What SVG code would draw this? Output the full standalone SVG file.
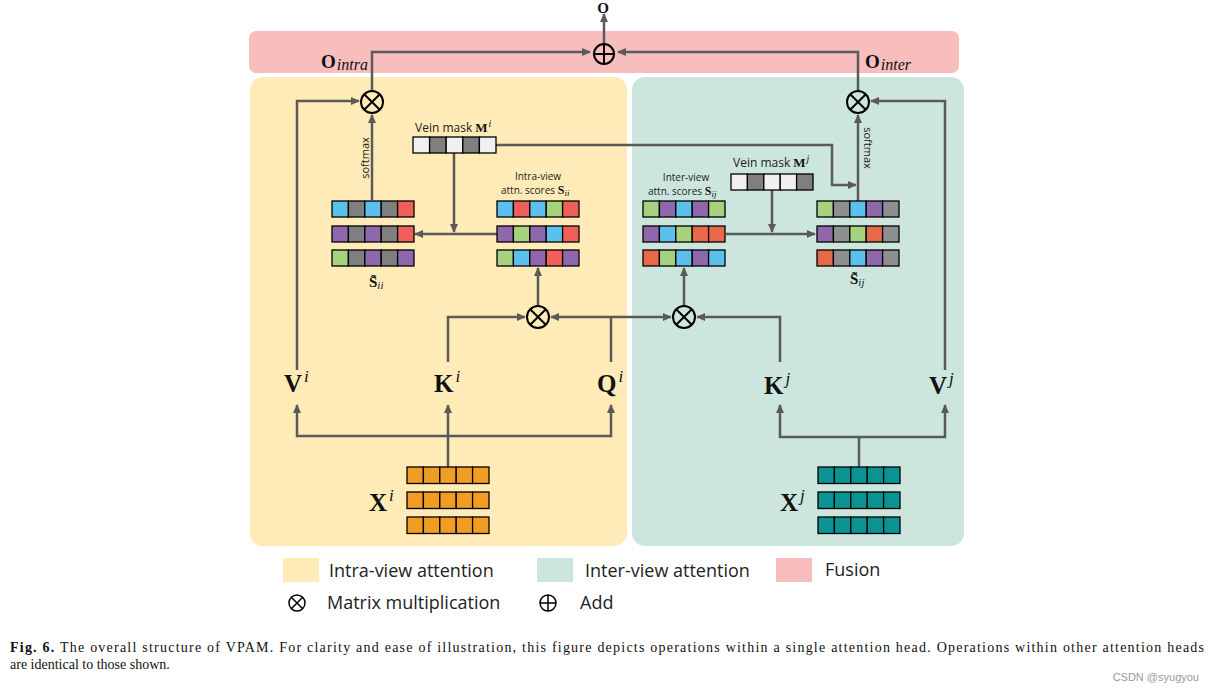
<svg xmlns="http://www.w3.org/2000/svg" width="1214" height="693" viewBox="0 0 1214 693">
<defs>
<marker id="ar" viewBox="0 0 10 10" refX="9" refY="5" markerWidth="9" markerHeight="9" markerUnits="userSpaceOnUse" orient="auto-start-reverse">
<path d="M0,0.5 L10,5 L0,9.5 z" fill="#5a5a5a"/>
</marker>
</defs>
<style>
.c{stroke:#000;stroke-width:1.3}
.b{fill:#5bc0eb}.r{fill:#f0605a}.o{fill:#e8694a}.g{fill:#a6d27f}.p{fill:#8e67ad}.k{fill:#7f7f7f}.k2{fill:#8e908f}.l{fill:#f0f0f0}.or{fill:#f09c25}.t{fill:#0b9293}
.ln{fill:none;stroke:#5a5a5a;stroke-width:2.5}
.op{fill:none;stroke:#000;stroke-width:2}
.sans{font-family:"Open Sans","Noto Sans",sans-serif;fill:#222}
.m{font-family:"Liberation Serif","DejaVu Serif",serif;font-weight:bold;fill:#111}
.mi{font-family:"Liberation Serif","DejaVu Serif",serif;font-style:italic;font-weight:normal;fill:#111}
.cap{font-family:"Liberation Serif","DejaVu Serif",serif;font-size:14px;fill:#111}
</style>
<rect width="1214" height="693" fill="#fff"/>
<g id="panels">
<rect x="249" y="31" width="710" height="42" rx="7" fill="#f8bdbd"/>
<rect x="250" y="77" width="377" height="469" rx="13" fill="#feebb8"/>
<rect x="632" y="77" width="332" height="469" rx="13" fill="#cde6dd"/>
</g>
<g id="connectors">
<path class="ln" d="M372,90 V52 H590" marker-end="url(#ar)"/>
<path class="ln" d="M858,90 V52 H618" marker-end="url(#ar)"/>
<path class="ln" d="M604,43 V14" marker-end="url(#ar)"/>
<path class="ln" d="M297,370 V101 H359" marker-end="url(#ar)"/>
<path class="ln" d="M945,370 V101 H871" marker-end="url(#ar)"/>
<path class="ln" d="M372,200 V115" marker-end="url(#ar)"/>
<path class="ln" d="M858,201 V115" marker-end="url(#ar)"/>
<path class="ln" d="M496,145 H832 V185 H856" marker-end="url(#ar)"/>
<path class="ln" d="M454,153 V232" marker-end="url(#ar)"/>
<path class="ln" d="M497,234 H415" marker-end="url(#ar)"/>
<path class="ln" d="M726,234 H815" marker-end="url(#ar)"/>
<path class="ln" d="M772,190 V232" marker-end="url(#ar)"/>
<path class="ln" d="M538,305 V268" marker-end="url(#ar)"/>
<path class="ln" d="M684,305 V268" marker-end="url(#ar)"/>
<path class="ln" d="M448,362 V317 H525" marker-end="url(#ar)"/>
<path class="ln" d="M611,362 V317"/>
<path class="ln" d="M551,317 H671" marker-start="url(#ar)" marker-end="url(#ar)"/>
<path class="ln" d="M780,362 V317 H697" marker-end="url(#ar)"/>
<path class="ln" d="M448,467 V405" marker-end="url(#ar)"/>
<path class="ln" d="M297,405 V436 H611 V405" marker-start="url(#ar)" marker-end="url(#ar)"/>
<path class="ln" d="M859,467 V437"/>
<path class="ln" d="M780,405 V437 H945 V405" marker-start="url(#ar)" marker-end="url(#ar)"/>
</g>
<g id="add-top">
<circle class="op" cx="604" cy="54" r="10"/>
<path class="op" d="M594,54 H614 M604,44 V64"/>
<text class="m" x="603" y="13" font-size="15" text-anchor="middle">O</text>
</g>
<g id="mul-intra-out">
<circle class="op" cx="372" cy="102" r="11"/>
<path class="op" d="M364.2,94.2 L379.8,109.8 M379.8,94.2 L364.2,109.8"/>
</g>
<g id="mul-inter-out">
<circle class="op" cx="858" cy="102" r="11"/>
<path class="op" d="M850.2,94.2 L865.8,109.8 M865.8,94.2 L850.2,109.8"/>
</g>
<g id="mul-intra-qk">
<circle class="op" cx="538" cy="317" r="11"/>
<path class="op" d="M530.2,309.2 L545.8,324.8 M545.8,309.2 L530.2,324.8"/>
</g>
<g id="mul-inter-qk">
<circle class="op" cx="684" cy="317" r="11"/>
<path class="op" d="M676.2,309.2 L691.8,324.8 M691.8,309.2 L676.2,324.8"/>
</g>
<g id="o-intra"><text class="m" x="321" y="68" font-size="19">O<tspan class="mi" font-size="16" dy="2" dx="1">intra</tspan></text></g>
<g id="o-inter"><text class="m" x="865" y="68" font-size="19">O<tspan class="mi" font-size="16" dy="2" dx="1">inter</tspan></text></g>
<g id="softmax-labels">
<text class="sans" font-size="11" text-anchor="middle" transform="translate(369,158) rotate(-90)">softmax</text>
<text class="sans" font-size="11" text-anchor="middle" transform="translate(864,148) rotate(90)">softmax</text>
</g>
<g id="mask-i">
<text class="sans" x="415" y="132" font-size="12">Vein mask <tspan class="m" font-size="13">M</tspan><tspan class="mi" font-size="10" dy="-5" dx="1">i</tspan></text>
<rect class="c l" x="413" y="137" width="16.6" height="16"/><rect class="c k" x="429.6" y="137" width="16.6" height="16"/><rect class="c l" x="446.2" y="137" width="16.6" height="16"/><rect class="c k" x="462.8" y="137" width="16.6" height="16"/><rect class="c l" x="479.4" y="137" width="16.6" height="16"/>
</g>
<g id="mask-j">
<text class="sans" x="733" y="167" font-size="12">Vein mask <tspan class="m" font-size="13">M</tspan><tspan class="mi" font-size="10" dy="-5" dx="1">j</tspan></text>
<rect class="c l" x="731" y="174" width="16.4" height="16"/><rect class="c k" x="747.4" y="174" width="16.4" height="16"/><rect class="c l" x="763.8" y="174" width="16.4" height="16"/><rect class="c l" x="780.2" y="174" width="16.4" height="16"/><rect class="c k" x="796.6" y="174" width="16.4" height="16"/>
</g>
<g id="s-tilde-ii">
<rect class="c b" x="332" y="201" width="16.4" height="16"/><rect class="c k" x="348.4" y="201" width="16.4" height="16"/><rect class="c b" x="364.8" y="201" width="16.4" height="16"/><rect class="c k" x="381.2" y="201" width="16.4" height="16"/><rect class="c r" x="397.6" y="201" width="16.4" height="16"/>
<rect class="c p" x="332" y="226" width="16.4" height="16"/><rect class="c k" x="348.4" y="226" width="16.4" height="16"/><rect class="c p" x="364.8" y="226" width="16.4" height="16"/><rect class="c k" x="381.2" y="226" width="16.4" height="16"/><rect class="c r" x="397.6" y="226" width="16.4" height="16"/>
<rect class="c g" x="332" y="250" width="16.4" height="16"/><rect class="c k" x="348.4" y="250" width="16.4" height="16"/><rect class="c p" x="364.8" y="250" width="16.4" height="16"/><rect class="c k" x="381.2" y="250" width="16.4" height="16"/><rect class="c p" x="397.6" y="250" width="16.4" height="16"/>
<text class="m" x="369" y="287" font-size="15">S̃<tspan class="mi" font-size="11" dy="2">ii</tspan></text>
</g>
<g id="s-ii">
<text class="sans" x="538" y="180" font-size="10" text-anchor="middle">Intra-view</text>
<text class="sans" x="501" y="194" font-size="10">attn. scores <tspan class="m" font-size="12">S</tspan><tspan class="mi" font-size="9" dy="2">ii</tspan></text>
<rect class="c b" x="497" y="201" width="16.4" height="16"/><rect class="c r" x="513.4" y="201" width="16.4" height="16"/><rect class="c b" x="529.8" y="201" width="16.4" height="16"/><rect class="c g" x="546.2" y="201" width="16.4" height="16"/><rect class="c r" x="562.6" y="201" width="16.4" height="16"/>
<rect class="c p" x="497" y="226" width="16.4" height="16"/><rect class="c g" x="513.4" y="226" width="16.4" height="16"/><rect class="c p" x="529.8" y="226" width="16.4" height="16"/><rect class="c b" x="546.2" y="226" width="16.4" height="16"/><rect class="c r" x="562.6" y="226" width="16.4" height="16"/>
<rect class="c g" x="497" y="250" width="16.4" height="16"/><rect class="c b" x="513.4" y="250" width="16.4" height="16"/><rect class="c p" x="529.8" y="250" width="16.4" height="16"/><rect class="c r" x="546.2" y="250" width="16.4" height="16"/><rect class="c p" x="562.6" y="250" width="16.4" height="16"/>
</g>
<g id="s-ij">
<text class="sans" x="686" y="181" font-size="10" text-anchor="middle">Inter-view</text>
<text class="sans" x="648" y="195" font-size="10">attn. scores <tspan class="m" font-size="12">S</tspan><tspan class="mi" font-size="9" dy="2">ij</tspan></text>
<rect class="c g" x="643" y="201" width="16.4" height="16"/><rect class="c p" x="659.4" y="201" width="16.4" height="16"/><rect class="c b" x="675.8" y="201" width="16.4" height="16"/><rect class="c p" x="692.2" y="201" width="16.4" height="16"/><rect class="c g" x="708.6" y="201" width="16.4" height="16"/>
<rect class="c p" x="643" y="226" width="16.4" height="16"/><rect class="c b" x="659.4" y="226" width="16.4" height="16"/><rect class="c g" x="675.8" y="226" width="16.4" height="16"/><rect class="c o" x="692.2" y="226" width="16.4" height="16"/><rect class="c o" x="708.6" y="226" width="16.4" height="16"/>
<rect class="c o" x="643" y="250" width="16.4" height="16"/><rect class="c g" x="659.4" y="250" width="16.4" height="16"/><rect class="c b" x="675.8" y="250" width="16.4" height="16"/><rect class="c p" x="692.2" y="250" width="16.4" height="16"/><rect class="c b" x="708.6" y="250" width="16.4" height="16"/>
</g>
<g id="s-tilde-ij">
<rect class="c g" x="817" y="201" width="16.4" height="16"/><rect class="c k2" x="833.4" y="201" width="16.4" height="16"/><rect class="c b" x="849.8" y="201" width="16.4" height="16"/><rect class="c p" x="866.2" y="201" width="16.4" height="16"/><rect class="c k2" x="882.6" y="201" width="16.4" height="16"/>
<rect class="c p" x="817" y="226" width="16.4" height="16"/><rect class="c k2" x="833.4" y="226" width="16.4" height="16"/><rect class="c g" x="849.8" y="226" width="16.4" height="16"/><rect class="c o" x="866.2" y="226" width="16.4" height="16"/><rect class="c k2" x="882.6" y="226" width="16.4" height="16"/>
<rect class="c o" x="817" y="250" width="16.4" height="16"/><rect class="c k2" x="833.4" y="250" width="16.4" height="16"/><rect class="c b" x="849.8" y="250" width="16.4" height="16"/><rect class="c p" x="866.2" y="250" width="16.4" height="16"/><rect class="c k2" x="882.6" y="250" width="16.4" height="16"/>
<text class="m" x="850" y="284" font-size="15">S̃<tspan class="mi" font-size="11" dy="2">ij</tspan></text>
</g>
<g id="v-i"><text class="m" x="284" y="392" font-size="25">V<tspan class="mi" font-size="17" dy="-10" dx="2">i</tspan></text></g>
<g id="k-i"><text class="m" x="434" y="392" font-size="25">K<tspan class="mi" font-size="17" dy="-10" dx="2">i</tspan></text></g>
<g id="q-i"><text class="m" x="597" y="392" font-size="25">Q<tspan class="mi" font-size="17" dy="-10" dx="2">i</tspan></text></g>
<g id="k-j"><text class="m" x="764" y="394" font-size="25">K<tspan class="mi" font-size="17" dy="-10" dx="2">j</tspan></text></g>
<g id="v-j"><text class="m" x="929" y="394" font-size="25">V<tspan class="mi" font-size="17" dy="-10" dx="2">j</tspan></text></g>
<g id="x-i">
<text class="m" x="369" y="511" font-size="25">X<tspan class="mi" font-size="17" dy="-10" dx="2">i</tspan></text>
<rect class="c or" x="407" y="467" width="16.4" height="16.5"/><rect class="c or" x="423.4" y="467" width="16.4" height="16.5"/><rect class="c or" x="439.8" y="467" width="16.4" height="16.5"/><rect class="c or" x="456.2" y="467" width="16.4" height="16.5"/><rect class="c or" x="472.6" y="467" width="16.4" height="16.5"/>
<rect class="c or" x="407" y="492" width="16.4" height="16.5"/><rect class="c or" x="423.4" y="492" width="16.4" height="16.5"/><rect class="c or" x="439.8" y="492" width="16.4" height="16.5"/><rect class="c or" x="456.2" y="492" width="16.4" height="16.5"/><rect class="c or" x="472.6" y="492" width="16.4" height="16.5"/>
<rect class="c or" x="407" y="517" width="16.4" height="16.5"/><rect class="c or" x="423.4" y="517" width="16.4" height="16.5"/><rect class="c or" x="439.8" y="517" width="16.4" height="16.5"/><rect class="c or" x="456.2" y="517" width="16.4" height="16.5"/><rect class="c or" x="472.6" y="517" width="16.4" height="16.5"/>
</g>
<g id="x-j">
<text class="m" x="780" y="511" font-size="25">X<tspan class="mi" font-size="17" dy="-10" dx="2">j</tspan></text>
<rect class="c t" x="818" y="467" width="16.4" height="16.5"/><rect class="c t" x="834.4" y="467" width="16.4" height="16.5"/><rect class="c t" x="850.8" y="467" width="16.4" height="16.5"/><rect class="c t" x="867.2" y="467" width="16.4" height="16.5"/><rect class="c t" x="883.6" y="467" width="16.4" height="16.5"/>
<rect class="c t" x="818" y="492" width="16.4" height="16.5"/><rect class="c t" x="834.4" y="492" width="16.4" height="16.5"/><rect class="c t" x="850.8" y="492" width="16.4" height="16.5"/><rect class="c t" x="867.2" y="492" width="16.4" height="16.5"/><rect class="c t" x="883.6" y="492" width="16.4" height="16.5"/>
<rect class="c t" x="818" y="517" width="16.4" height="16.5"/><rect class="c t" x="834.4" y="517" width="16.4" height="16.5"/><rect class="c t" x="850.8" y="517" width="16.4" height="16.5"/><rect class="c t" x="867.2" y="517" width="16.4" height="16.5"/><rect class="c t" x="883.6" y="517" width="16.4" height="16.5"/>
</g>
<g id="legend">
<rect x="283" y="558" width="36" height="24" fill="#feebb8"/>
<text class="sans" x="329" y="577" font-size="18">Intra-view attention</text>
<rect x="537" y="558" width="36" height="24" fill="#cde6dd"/>
<text class="sans" x="585" y="577" font-size="18">Inter-view attention</text>
<rect x="776" y="558" width="36" height="24" fill="#f8bdbd"/>
<text class="sans" x="825" y="576" font-size="18">Fusion</text>
<circle cx="297" cy="603" r="8" fill="none" stroke="#000" stroke-width="1.5"/>
<path d="M291.3,597.3 L302.7,608.7 M302.7,597.3 L291.3,608.7" stroke="#000" stroke-width="1.5"/>
<text class="sans" x="327" y="609" font-size="18">Matrix multiplication</text>
<circle cx="548" cy="603" r="8" fill="none" stroke="#000" stroke-width="1.5"/>
<path d="M540,603 H556 M548,595 V611" stroke="#000" stroke-width="1.5"/>
<text class="sans" x="580" y="609" font-size="18">Add</text>
</g>
<g id="caption">
<text class="cap" x="10" y="652" textLength="1194" lengthAdjust="spacing"><tspan font-weight="bold">Fig. 6.</tspan> The overall structure of VPAM. For clarity and ease of illustration, this figure depicts operations within a single attention head. Operations within other attention heads</text>
<text class="cap" x="10" y="669">are identical to those shown.</text>
<text x="1199" y="681" text-anchor="end" font-family="Liberation Sans, Arial, sans-serif" font-size="11" fill="#9a9a9a">CSDN @syugyou</text>
</g>
</svg>
